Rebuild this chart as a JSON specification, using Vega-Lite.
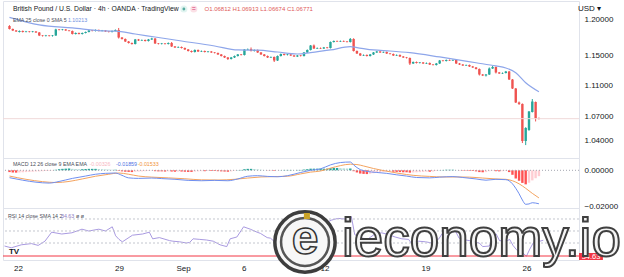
{
"$schema":"https://vega.github.io/schema/vega-lite/v6.json",
"padding":{"left":2,"top":0,"right":0,"bottom":0},
"spacing":0,
"bounds":"flush",
"background":"white",
"config":{"view":{"stroke":"#e0e3eb"},"font":"Liberation Sans","axis":{"domain":false,"ticks":false,"grid":false,"labelFont":"Liberation Sans","labelColor":"#131722","labelFontSize":8,"labelFlush":false,"labelOverlap":false,"labelBound":false}},
"resolve":{"scale":{"color":"independent"}},
"datasets":{
"candles":[
{"i":0,"o":1.1909,"h":1.1920,"l":1.1860,"c":1.1867,"m":-0.0010},
{"i":1,"o":1.1867,"h":1.1873,"l":1.1838,"c":1.1846,"m":-0.0012},
{"i":2,"o":1.1846,"h":1.1852,"l":1.1825,"c":1.1832,"m":-0.0013},
{"i":3,"o":1.1825,"h":1.1846,"l":1.1818,"c":1.1839,"m":-0.0012},
{"i":4,"o":1.1839,"h":1.1845,"l":1.1818,"c":1.1825,"m":-0.0011},
{"i":5,"o":1.1825,"h":1.1840,"l":1.1819,"c":1.1832,"m":-0.0010},
{"i":6,"o":1.1832,"h":1.1838,"l":1.1818,"c":1.1825,"m":-0.0009},
{"i":7,"o":1.1825,"h":1.1839,"l":1.1819,"c":1.1832,"m":-0.0008},
{"i":8,"o":1.1832,"h":1.1838,"l":1.1812,"c":1.1818,"m":-0.0007},
{"i":9,"o":1.1818,"h":1.1824,"l":1.1768,"c":1.1776,"m":-0.0006},
{"i":10,"o":1.1776,"h":1.1782,"l":1.1761,"c":1.1769,"m":-0.0005},
{"i":11,"o":1.1769,"h":1.1784,"l":1.1762,"c":1.1776,"m":-0.0004},
{"i":12,"o":1.1776,"h":1.1781,"l":1.1762,"c":1.1769,"m":-0.0003},
{"i":13,"o":1.1769,"h":1.1783,"l":1.1761,"c":1.1776,"m":-0.0002},
{"i":14,"o":1.1776,"h":1.1870,"l":1.1770,"c":1.1860,"m":0.0003},
{"i":15,"o":1.1860,"h":1.1866,"l":1.1846,"c":1.1853,"m":0.0006},
{"i":16,"o":1.1853,"h":1.1867,"l":1.1847,"c":1.1860,"m":0.0008},
{"i":17,"o":1.1860,"h":1.1866,"l":1.1840,"c":1.1846,"m":0.0009},
{"i":18,"o":1.1846,"h":1.1852,"l":1.1832,"c":1.1839,"m":0.0010},
{"i":19,"o":1.1839,"h":1.1845,"l":1.1790,"c":1.1797,"m":0.0008},
{"i":20,"o":1.1797,"h":1.1818,"l":1.1790,"c":1.1811,"m":0.0007},
{"i":21,"o":1.1811,"h":1.1817,"l":1.1791,"c":1.1797,"m":0.0006},
{"i":22,"o":1.1797,"h":1.1817,"l":1.1790,"c":1.1811,"m":0.0006},
{"i":23,"o":1.1811,"h":1.1831,"l":1.1805,"c":1.1825,"m":0.0007},
{"i":24,"o":1.1825,"h":1.1853,"l":1.1819,"c":1.1846,"m":0.0008},
{"i":25,"o":1.1846,"h":1.1853,"l":1.1833,"c":1.1839,"m":0.0008},
{"i":26,"o":1.1839,"h":1.1860,"l":1.1832,"c":1.1853,"m":0.0008},
{"i":27,"o":1.1853,"h":1.1859,"l":1.1832,"c":1.1839,"m":0.0007},
{"i":28,"o":1.1839,"h":1.1853,"l":1.1833,"c":1.1846,"m":0.0006},
{"i":29,"o":1.1846,"h":1.1852,"l":1.1826,"c":1.1832,"m":0.0005},
{"i":30,"o":1.1832,"h":1.1838,"l":1.1818,"c":1.1825,"m":0.0004},
{"i":31,"o":1.1825,"h":1.1845,"l":1.1818,"c":1.1839,"m":0.0003},
{"i":32,"o":1.1839,"h":1.1860,"l":1.1833,"c":1.1853,"m":0.0003},
{"i":33,"o":1.1853,"h":1.1881,"l":1.1734,"c":1.1748,"m":-0.0003},
{"i":34,"o":1.1748,"h":1.1755,"l":1.1720,"c":1.1728,"m":-0.0006},
{"i":35,"o":1.1728,"h":1.1735,"l":1.1686,"c":1.1693,"m":-0.0008},
{"i":36,"o":1.1693,"h":1.1700,"l":1.1665,"c":1.1672,"m":-0.0009},
{"i":37,"o":1.1672,"h":1.1679,"l":1.1650,"c":1.1659,"m":-0.0010},
{"i":38,"o":1.1659,"h":1.1728,"l":1.1652,"c":1.1721,"m":-0.0008},
{"i":39,"o":1.1721,"h":1.1728,"l":1.1700,"c":1.1707,"m":-0.0007},
{"i":40,"o":1.1707,"h":1.1721,"l":1.1700,"c":1.1714,"m":-0.0006},
{"i":41,"o":1.1714,"h":1.1720,"l":1.1693,"c":1.1700,"m":-0.0005},
{"i":42,"o":1.1700,"h":1.1728,"l":1.1693,"c":1.1721,"m":-0.0004},
{"i":43,"o":1.1721,"h":1.1745,"l":1.1714,"c":1.1734,"m":-0.0003},
{"i":44,"o":1.1734,"h":1.1741,"l":1.1659,"c":1.1666,"m":-0.0005},
{"i":45,"o":1.1666,"h":1.1672,"l":1.1652,"c":1.1659,"m":-0.0006},
{"i":46,"o":1.1659,"h":1.1673,"l":1.1652,"c":1.1666,"m":-0.0006},
{"i":47,"o":1.1666,"h":1.1672,"l":1.1651,"c":1.1659,"m":-0.0007},
{"i":48,"o":1.1659,"h":1.1680,"l":1.1652,"c":1.1672,"m":-0.0006},
{"i":49,"o":1.1672,"h":1.1686,"l":1.1618,"c":1.1625,"m":-0.0007},
{"i":50,"o":1.1625,"h":1.1631,"l":1.1604,"c":1.1611,"m":-0.0008},
{"i":51,"o":1.1611,"h":1.1625,"l":1.1604,"c":1.1618,"m":-0.0007},
{"i":52,"o":1.1618,"h":1.1624,"l":1.1597,"c":1.1604,"m":-0.0007},
{"i":53,"o":1.1604,"h":1.1611,"l":1.1577,"c":1.1584,"m":-0.0008},
{"i":54,"o":1.1584,"h":1.1590,"l":1.1556,"c":1.1563,"m":-0.0009},
{"i":55,"o":1.1563,"h":1.1570,"l":1.1542,"c":1.1549,"m":-0.0009},
{"i":56,"o":1.1549,"h":1.1584,"l":1.1542,"c":1.1577,"m":-0.0007},
{"i":57,"o":1.1577,"h":1.1583,"l":1.1549,"c":1.1556,"m":-0.0006},
{"i":58,"o":1.1556,"h":1.1570,"l":1.1549,"c":1.1563,"m":-0.0005},
{"i":59,"o":1.1563,"h":1.1569,"l":1.1543,"c":1.1549,"m":-0.0005},
{"i":60,"o":1.1549,"h":1.1563,"l":1.1542,"c":1.1556,"m":-0.0004},
{"i":61,"o":1.1556,"h":1.1562,"l":1.1536,"c":1.1543,"m":-0.0004},
{"i":62,"o":1.1543,"h":1.1549,"l":1.1529,"c":1.1536,"m":-0.0004},
{"i":63,"o":1.1536,"h":1.1542,"l":1.1509,"c":1.1516,"m":-0.0005},
{"i":64,"o":1.1516,"h":1.1522,"l":1.1488,"c":1.1495,"m":-0.0006},
{"i":65,"o":1.1495,"h":1.1501,"l":1.1468,"c":1.1475,"m":-0.0007},
{"i":66,"o":1.1475,"h":1.1481,"l":1.1441,"c":1.1455,"m":-0.0008},
{"i":67,"o":1.1455,"h":1.1482,"l":1.1448,"c":1.1475,"m":-0.0006},
{"i":68,"o":1.1475,"h":1.1502,"l":1.1468,"c":1.1495,"m":-0.0003},
{"i":69,"o":1.1495,"h":1.1522,"l":1.1488,"c":1.1516,"m":0.0001},
{"i":70,"o":1.1516,"h":1.1522,"l":1.1502,"c":1.1509,"m":0.0002},
{"i":71,"o":1.1509,"h":1.1590,"l":1.1502,"c":1.1584,"m":0.0006},
{"i":72,"o":1.1584,"h":1.1597,"l":1.1577,"c":1.1590,"m":0.0008},
{"i":73,"o":1.1590,"h":1.1611,"l":1.1556,"c":1.1563,"m":0.0008},
{"i":74,"o":1.1563,"h":1.1584,"l":1.1556,"c":1.1577,"m":0.0007},
{"i":75,"o":1.1577,"h":1.1583,"l":1.1536,"c":1.1543,"m":0.0005},
{"i":76,"o":1.1543,"h":1.1549,"l":1.1509,"c":1.1516,"m":0.0003},
{"i":77,"o":1.1516,"h":1.1522,"l":1.1488,"c":1.1495,"m":0.0001},
{"i":78,"o":1.1495,"h":1.1502,"l":1.1468,"c":1.1475,"m":-0.0001},
{"i":79,"o":1.1475,"h":1.1488,"l":1.1468,"c":1.1482,"m":-0.0001},
{"i":80,"o":1.1482,"h":1.1488,"l":1.1414,"c":1.1434,"m":-0.0003},
{"i":81,"o":1.1434,"h":1.1502,"l":1.1428,"c":1.1495,"m":-0.0001},
{"i":82,"o":1.1495,"h":1.1529,"l":1.1488,"c":1.1522,"m":0.0001},
{"i":83,"o":1.1522,"h":1.1529,"l":1.1502,"c":1.1509,"m":0.0002},
{"i":84,"o":1.1509,"h":1.1522,"l":1.1502,"c":1.1516,"m":0.0002},
{"i":85,"o":1.1516,"h":1.1522,"l":1.1495,"c":1.1502,"m":0.0002},
{"i":86,"o":1.1502,"h":1.1509,"l":1.1482,"c":1.1488,"m":0.0001},
{"i":87,"o":1.1488,"h":1.1509,"l":1.1481,"c":1.1502,"m":0.0002},
{"i":88,"o":1.1502,"h":1.1509,"l":1.1488,"c":1.1495,"m":0.0002},
{"i":89,"o":1.1495,"h":1.1549,"l":1.1488,"c":1.1543,"m":0.0004},
{"i":90,"o":1.1543,"h":1.1584,"l":1.1536,"c":1.1577,"m":0.0006},
{"i":91,"o":1.1577,"h":1.1645,"l":1.1570,"c":1.1638,"m":0.0009},
{"i":92,"o":1.1638,"h":1.1652,"l":1.1590,"c":1.1597,"m":0.0009},
{"i":93,"o":1.1597,"h":1.1611,"l":1.1590,"c":1.1604,"m":0.0009},
{"i":94,"o":1.1604,"h":1.1611,"l":1.1590,"c":1.1597,"m":0.0009},
{"i":95,"o":1.1597,"h":1.1618,"l":1.1590,"c":1.1611,"m":0.0009},
{"i":96,"o":1.1611,"h":1.1618,"l":1.1597,"c":1.1604,"m":0.0009},
{"i":97,"o":1.1604,"h":1.1693,"l":1.1597,"c":1.1686,"m":0.0012},
{"i":98,"o":1.1686,"h":1.1707,"l":1.1679,"c":1.1700,"m":0.0013},
{"i":99,"o":1.1700,"h":1.1707,"l":1.1686,"c":1.1693,"m":0.0013},
{"i":100,"o":1.1693,"h":1.1707,"l":1.1686,"c":1.1700,"m":0.0012},
{"i":101,"o":1.1700,"h":1.1707,"l":1.1686,"c":1.1693,"m":0.0011},
{"i":102,"o":1.1693,"h":1.1700,"l":1.1679,"c":1.1686,"m":0.0010},
{"i":103,"o":1.1686,"h":1.1741,"l":1.1679,"c":1.1728,"m":0.0010},
{"i":104,"o":1.1728,"h":1.1738,"l":1.1556,"c":1.1563,"m":-0.0005},
{"i":105,"o":1.1563,"h":1.1570,"l":1.1522,"c":1.1529,"m":-0.0012},
{"i":106,"o":1.1529,"h":1.1536,"l":1.1495,"c":1.1502,"m":-0.0018},
{"i":107,"o":1.1502,"h":1.1516,"l":1.1495,"c":1.1509,"m":-0.0020},
{"i":108,"o":1.1509,"h":1.1516,"l":1.1488,"c":1.1495,"m":-0.0021},
{"i":109,"o":1.1495,"h":1.1522,"l":1.1488,"c":1.1516,"m":-0.0019},
{"i":110,"o":1.1516,"h":1.1549,"l":1.1509,"c":1.1543,"m":-0.0016},
{"i":111,"o":1.1543,"h":1.1565,"l":1.1536,"c":1.1556,"m":-0.0013},
{"i":112,"o":1.1556,"h":1.1563,"l":1.1536,"c":1.1543,"m":-0.0011},
{"i":113,"o":1.1543,"h":1.1556,"l":1.1536,"c":1.1549,"m":-0.0009},
{"i":114,"o":1.1549,"h":1.1556,"l":1.1522,"c":1.1529,"m":-0.0008},
{"i":115,"o":1.1529,"h":1.1536,"l":1.1515,"c":1.1522,"m":-0.0007},
{"i":116,"o":1.1522,"h":1.1529,"l":1.1495,"c":1.1502,"m":-0.0008},
{"i":117,"o":1.1502,"h":1.1516,"l":1.1495,"c":1.1509,"m":-0.0009},
{"i":118,"o":1.1509,"h":1.1516,"l":1.1482,"c":1.1488,"m":-0.0010},
{"i":119,"o":1.1488,"h":1.1495,"l":1.1468,"c":1.1475,"m":-0.0011},
{"i":120,"o":1.1475,"h":1.1482,"l":1.1461,"c":1.1468,"m":-0.0011},
{"i":121,"o":1.1468,"h":1.1475,"l":1.1374,"c":1.1394,"m":-0.0013},
{"i":122,"o":1.1394,"h":1.1421,"l":1.1387,"c":1.1414,"m":-0.0012},
{"i":123,"o":1.1414,"h":1.1421,"l":1.1394,"c":1.1401,"m":-0.0011},
{"i":124,"o":1.1401,"h":1.1414,"l":1.1394,"c":1.1408,"m":-0.0010},
{"i":125,"o":1.1408,"h":1.1414,"l":1.1387,"c":1.1394,"m":-0.0009},
{"i":126,"o":1.1394,"h":1.1408,"l":1.1387,"c":1.1401,"m":-0.0008},
{"i":127,"o":1.1401,"h":1.1408,"l":1.1374,"c":1.1380,"m":-0.0008},
{"i":128,"o":1.1380,"h":1.1387,"l":1.1367,"c":1.1374,"m":-0.0007},
{"i":129,"o":1.1374,"h":1.1401,"l":1.1367,"c":1.1394,"m":-0.0004},
{"i":130,"o":1.1394,"h":1.1441,"l":1.1387,"c":1.1434,"m":0.0001},
{"i":131,"o":1.1434,"h":1.1441,"l":1.1421,"c":1.1428,"m":0.0002},
{"i":132,"o":1.1428,"h":1.1448,"l":1.1421,"c":1.1441,"m":0.0003},
{"i":133,"o":1.1441,"h":1.1448,"l":1.1428,"c":1.1434,"m":0.0003},
{"i":134,"o":1.1434,"h":1.1448,"l":1.1428,"c":1.1441,"m":0.0003},
{"i":135,"o":1.1441,"h":1.1448,"l":1.1387,"c":1.1394,"m":0.0001},
{"i":136,"o":1.1394,"h":1.1401,"l":1.1374,"c":1.1380,"m":-0.0001},
{"i":137,"o":1.1380,"h":1.1387,"l":1.1361,"c":1.1367,"m":-0.0002},
{"i":138,"o":1.1367,"h":1.1380,"l":1.1361,"c":1.1374,"m":-0.0002},
{"i":139,"o":1.1374,"h":1.1380,"l":1.1347,"c":1.1354,"m":-0.0003},
{"i":140,"o":1.1354,"h":1.1361,"l":1.1334,"c":1.1341,"m":-0.0004},
{"i":141,"o":1.1341,"h":1.1347,"l":1.1314,"c":1.1321,"m":-0.0006},
{"i":142,"o":1.1321,"h":1.1327,"l":1.1234,"c":1.1247,"m":-0.0010},
{"i":143,"o":1.1247,"h":1.1254,"l":1.1227,"c":1.1234,"m":-0.0011},
{"i":144,"o":1.1234,"h":1.1254,"l":1.1221,"c":1.1247,"m":-0.0010},
{"i":145,"o":1.1247,"h":1.1341,"l":1.1241,"c":1.1327,"m":-0.0005},
{"i":146,"o":1.1327,"h":1.1361,"l":1.1321,"c":1.1347,"m":-0.0003},
{"i":147,"o":1.1347,"h":1.1354,"l":1.1261,"c":1.1274,"m":-0.0005},
{"i":148,"o":1.1274,"h":1.1281,"l":1.1254,"c":1.1261,"m":-0.0006},
{"i":149,"o":1.1261,"h":1.1274,"l":1.1254,"c":1.1267,"m":-0.0005},
{"i":150,"o":1.1267,"h":1.1294,"l":1.1261,"c":1.1287,"m":-0.0004},
{"i":151,"o":1.1287,"h":1.1294,"l":1.1175,"c":1.1181,"m":-0.0010},
{"i":152,"o":1.1181,"h":1.1188,"l":1.1057,"c":1.1063,"m":-0.0025},
{"i":153,"o":1.1063,"h":1.1070,"l":1.0876,"c":1.0883,"m":-0.0045},
{"i":154,"o":1.0883,"h":1.0895,"l":1.0851,"c":1.0864,"m":-0.0058},
{"i":155,"o":1.0864,"h":1.0870,"l":1.0375,"c":1.0400,"m":-0.0070},
{"i":156,"o":1.0400,"h":1.0570,"l":1.0350,"c":1.0561,"m":-0.0078},
{"i":157,"o":1.0536,"h":1.0774,"l":1.0525,"c":1.0768,"m":-0.0069},
{"i":158,"o":1.0761,"h":1.0927,"l":1.0755,"c":1.0895,"m":-0.0056},
{"i":159,"o":1.0889,"h":1.0895,"l":1.0642,"c":1.0681,"m":-0.0044},
{"i":160,"o":1.06812,"h":1.06913,"l":1.06674,"c":1.06771,"m":-0.00326}
],
"ema":[{"i":0,"v":1.2030},{"i":9,"v":1.1923},{"i":19,"v":1.1881},{"i":29,"v":1.1839},{"i":32,"v":1.1837},{"i":38,"v":1.1797},{"i":44,"v":1.1755},{"i":52,"v":1.1700},{"i":62,"v":1.1631},{"i":69,"v":1.1577},{"i":75,"v":1.1575},{"i":81,"v":1.1549},{"i":87,"v":1.1522},{"i":91,"v":1.1540},{"i":97,"v":1.1577},{"i":103,"v":1.1622},{"i":105,"v":1.1610},{"i":110,"v":1.1577},{"i":115,"v":1.1563},{"i":121,"v":1.1540},{"i":130,"v":1.1482},{"i":141,"v":1.1404},{"i":147,"v":1.1361},{"i":150,"v":1.1334},{"i":153,"v":1.1271},{"i":156,"v":1.1139},{"i":160,"v":1.10213}],
"macd":[{"i":0,"v":-0.0041},{"i":4,"v":-0.0055},{"i":8,"v":-0.0066},{"i":12,"v":-0.0071},{"i":15,"v":-0.0062},{"i":19,"v":-0.0045},{"i":23,"v":-0.0032},{"i":26,"v":-0.0022},{"i":29,"v":-0.0017},{"i":32,"v":-0.0015},{"i":34,"v":-0.0028},{"i":36,"v":-0.0042},{"i":39,"v":-0.0045},{"i":43,"v":-0.0043},{"i":46,"v":-0.0046},{"i":50,"v":-0.0050},{"i":54,"v":-0.0056},{"i":58,"v":-0.0058},{"i":62,"v":-0.0056},{"i":66,"v":-0.0058},{"i":69,"v":-0.0048},{"i":72,"v":-0.0033},{"i":75,"v":-0.0030},{"i":78,"v":-0.0034},{"i":81,"v":-0.0036},{"i":84,"v":-0.0030},{"i":88,"v":-0.0012},{"i":91,"v":0.0000},{"i":94,"v":0.0008},{"i":97,"v":0.0030},{"i":100,"v":0.0043},{"i":103,"v":0.0046},{"i":104,"v":0.0030},{"i":105,"v":0.0015},{"i":106,"v":0.0004},{"i":108,"v":-0.0006},{"i":111,"v":-0.0012},{"i":114,"v":-0.0017},{"i":117,"v":-0.0025},{"i":120,"v":-0.0032},{"i":123,"v":-0.0040},{"i":127,"v":-0.0042},{"i":130,"v":-0.0038},{"i":134,"v":-0.0035},{"i":137,"v":-0.0040},{"i":141,"v":-0.0048},{"i":144,"v":-0.0055},{"i":147,"v":-0.0050},{"i":150,"v":-0.0052},{"i":152,"v":-0.0075},{"i":153,"v":-0.0100},{"i":154,"v":-0.0130},{"i":155,"v":-0.0165},{"i":156,"v":-0.0189},{"i":157,"v":-0.0187},{"i":158,"v":-0.0180},{"i":159,"v":-0.0182},{"i":160,"v":-0.01859}],
"sig":[{"i":0,"v":-0.0032},{"i":5,"v":-0.0050},{"i":10,"v":-0.0063},{"i":14,"v":-0.0068},{"i":18,"v":-0.0062},{"i":22,"v":-0.0048},{"i":26,"v":-0.0033},{"i":30,"v":-0.0022},{"i":33,"v":-0.0015},{"i":36,"v":-0.0022},{"i":39,"v":-0.0032},{"i":43,"v":-0.0038},{"i":48,"v":-0.0042},{"i":53,"v":-0.0047},{"i":58,"v":-0.0053},{"i":63,"v":-0.0054},{"i":68,"v":-0.0050},{"i":72,"v":-0.0043},{"i":76,"v":-0.0037},{"i":80,"v":-0.0035},{"i":84,"v":-0.0033},{"i":88,"v":-0.0020},{"i":91,"v":-0.0010},{"i":94,"v":-0.0004},{"i":97,"v":0.0012},{"i":100,"v":0.0026},{"i":103,"v":0.0034},{"i":105,"v":0.0032},{"i":107,"v":0.0024},{"i":110,"v":0.0010},{"i":114,"v":-0.0005},{"i":118,"v":-0.0018},{"i":122,"v":-0.0028},{"i":127,"v":-0.0034},{"i":131,"v":-0.0037},{"i":135,"v":-0.0037},{"i":139,"v":-0.0038},{"i":143,"v":-0.0043},{"i":147,"v":-0.0048},{"i":150,"v":-0.0050},{"i":152,"v":-0.0058},{"i":154,"v":-0.0075},{"i":156,"v":-0.0100},{"i":158,"v":-0.0128},{"i":160,"v":-0.01533}],
"rsi":[{"i":0,"v":25},{"i":2,"v":22},{"i":5,"v":27},{"i":8,"v":29},{"i":10,"v":26},{"i":12,"v":33},{"i":14,"v":48},{"i":17,"v":45},{"i":20,"v":47},{"i":23,"v":53},{"i":25,"v":50},{"i":28,"v":53},{"i":30,"v":50},{"i":32,"v":57},{"i":33,"v":42},{"i":34,"v":36},{"i":35,"v":32},{"i":38,"v":43},{"i":41,"v":45},{"i":43,"v":48},{"i":44,"v":37},{"i":46,"v":39},{"i":49,"v":34},{"i":50,"v":33},{"i":52,"v":32},{"i":54,"v":30},{"i":55,"v":31},{"i":56,"v":37},{"i":58,"v":36},{"i":60,"v":35},{"i":62,"v":33},{"i":64,"v":27},{"i":66,"v":24},{"i":67,"v":37},{"i":69,"v":40},{"i":71,"v":57},{"i":73,"v":53},{"i":75,"v":48},{"i":76,"v":46},{"i":78,"v":39},{"i":79,"v":38},{"i":80,"v":33},{"i":81,"v":45},{"i":83,"v":47},{"i":86,"v":44},{"i":88,"v":45},{"i":89,"v":52},{"i":91,"v":62},{"i":92,"v":55},{"i":94,"v":60},{"i":95,"v":62},{"i":97,"v":68},{"i":99,"v":71},{"i":101,"v":70},{"i":103,"v":74},{"i":104,"v":44},{"i":106,"v":38},{"i":108,"v":37},{"i":110,"v":45},{"i":112,"v":47},{"i":114,"v":44},{"i":116,"v":40},{"i":118,"v":37},{"i":120,"v":36},{"i":121,"v":28},{"i":123,"v":33},{"i":125,"v":32},{"i":127,"v":30},{"i":129,"v":37},{"i":130,"v":46},{"i":132,"v":48},{"i":134,"v":49},{"i":135,"v":38},{"i":137,"v":35},{"i":139,"v":33},{"i":141,"v":30},{"i":142,"v":24},{"i":144,"v":25},{"i":145,"v":42},{"i":146,"v":45},{"i":147,"v":34},{"i":149,"v":33},{"i":150,"v":36},{"i":151,"v":26},{"i":152,"v":19},{"i":153,"v":14},{"i":154,"v":13},{"i":155,"v":8},{"i":156,"v":20},{"i":157,"v":30},{"i":158,"v":38},{"i":159,"v":33},{"i":160,"v":34.63}]
},
"vconcat":[
{
"width":576,"height":157,
"layer":[
{"data":{"name":"candles"},"transform":[{"calculate":"datum.c>=datum.o?'up':'down'","as":"dir"}],
"mark":{"type":"rule","strokeWidth":1},
"encoding":{
"x":{"field":"i","type":"quantitative","scale":{"domain":[-0.45,170.6],"nice":false,"zero":false},"axis":null},
"y":{"field":"l","type":"quantitative","title":null,"scale":{"type":"log","domain":[1.01938,1.22643],"nice":false,"zero":false},
"axis":{"orient":"right","values":[1.2,1.15,1.11,1.07,1.04],"format":".5f","labelPadding":5,"title":null}},
"y2":{"field":"h"},
"color":{"field":"dir","type":"nominal","scale":{"domain":["up","down"],"range":["#26a69a","#ef5350"]},"legend":null}}},
{"data":{"name":"candles"},"transform":[{"calculate":"datum.c>=datum.o?'up':'down'","as":"dir"}],
"mark":{"type":"bar","width":2.4},
"encoding":{
"x":{"field":"i","type":"quantitative"},
"y":{"field":"o","type":"quantitative","title":null},
"y2":{"field":"c"},
"color":{"field":"dir","type":"nominal","legend":null}}},
{"data":{"values":[{"p":1.06771}]},"mark":{"type":"rule","color":"#f0dada","strokeWidth":1},"encoding":{"y":{"field":"p","type":"quantitative","title":null}}},
{"data":{"name":"ema"},"mark":{"type":"line","color":"#8ea6ea","strokeWidth":1.2,"interpolate":"monotone"},
"encoding":{"x":{"field":"i","type":"quantitative"},"y":{"field":"v","type":"quantitative","title":null}}},
{"data":{"values":[{"t":"British Pound / U.S. Dollar · 4h · OANDA · TradingView"}]},"mark":{"type":"text","align":"left","baseline":"middle","fontSize":6.8,"color":"#131722"},
"encoding":{"x":{"datum":1.03},"y":{"datum":1.21494},"text":{"field":"t"}}},
{"data":{"values":[{"t":"USD ▾"}]},"mark":{"type":"text","align":"left","baseline":"middle","fontSize":8,"color":"#131722"},
"encoding":{"x":{"datum":171.8},"y":{"datum":1.21494},"text":{"field":"t"}}},
{"data":{"values":[{"k":"a"}]},"mark":{"type":"point","shape":"circle","filled":true,"size":50,"color":"#d4efe9"},"encoding":{"x":{"datum":52.7},"y":{"datum":1.21494}}},
{"data":{"values":[{"k":"a"}]},"mark":{"type":"point","shape":"circle","filled":true,"size":8,"color":"#1e8c7e"},"encoding":{"x":{"datum":52.7},"y":{"datum":1.21494}}},
{"data":{"values":[{"k":"b"}]},"mark":{"type":"point","shape":"circle","filled":true,"size":50,"color":"#f9d3dc"},"encoding":{"x":{"datum":55.7},"y":{"datum":1.21494}}},
{"data":{"values":[{"t":"="}]},"mark":{"type":"text","align":"center","baseline":"middle","fontSize":7,"color":"#d6336c"},"encoding":{"x":{"datum":55.7},"y":{"datum":1.21494},"text":{"field":"t"}}},
{"data":{"values":[{"t":"O1.06812  H1.06913  L1.06674  C1.06771"}]},"mark":{"type":"text","align":"left","baseline":"middle","fontSize":6,"color":"#e05a5a"},
"encoding":{"x":{"datum":58.94},"y":{"datum":1.21494},"text":{"field":"t"}}},
{"data":{"values":[{"t":"EMA 25 close 0 SMA 5"}]},"mark":{"type":"text","align":"left","baseline":"middle","fontSize":5.3,"color":"#4a4e59"},
"encoding":{"x":{"datum":1.03},"y":{"datum":1.19929},"text":{"field":"t"}}},
{"data":{"values":[{"t":"1.10213"}]},"mark":{"type":"text","align":"left","baseline":"middle","fontSize":5.3,"color":"#6f8fe0"},
"encoding":{"x":{"datum":17.66},"y":{"datum":1.19929},"text":{"field":"t"}}}
]
},
{
"width":576,"height":50,
"layer":[
{"data":{"name":"candles"},"transform":[{"window":[{"op":"lag","field":"m","as":"pm"}],"sort":[{"field":"i","order":"ascending"}]},{"calculate":"datum.m>=0?((datum.pm==null||datum.m>=datum.pm)?'gu':'gf'):((datum.pm==null||datum.m<=datum.pm)?'rd':'rf')","as":"hc"}],
"mark":{"type":"bar","width":2.4},
"encoding":{
"x":{"field":"i","type":"quantitative","scale":{"domain":[-0.45,170.6],"nice":false,"zero":false},"axis":null},
"y":{"field":"m","type":"quantitative","title":null,"scale":{"domain":[-0.02094,0.00683],"nice":false,"zero":false},"axis":{"orient":"right","values":[0,-0.02],"format":".5f","labelPadding":5,"title":null}},
"y2":{"datum":0},
"color":{"field":"hc","type":"nominal","scale":{"domain":["gu","gf","rd","rf"],"range":["#26a69a","#b2dfdb","#ff5252","#ffcdd2"]},"legend":null}}},
{"data":{"values":[{"z":0}]},"mark":{"type":"rule","color":"#a3a6af","strokeDash":[1,2],"strokeWidth":1},"encoding":{"y":{"field":"z","type":"quantitative","title":null}}},
{"data":{"name":"sig"},"mark":{"type":"line","color":"#f4a460","strokeWidth":1,"interpolate":"monotone"},"encoding":{"x":{"field":"i","type":"quantitative"},"y":{"field":"v","type":"quantitative","title":null}}},
{"data":{"name":"macd"},"mark":{"type":"line","color":"#6f8ff0","strokeWidth":1,"interpolate":"monotone"},"encoding":{"x":{"field":"i","type":"quantitative"},"y":{"field":"v","type":"quantitative","title":null}}},
{"data":{"values":[{"t":"MACD 12 26 close 9 EMA EMA"}]},"mark":{"type":"text","align":"left","baseline":"middle","fontSize":5.3,"color":"#4a4e59"},"encoding":{"x":{"datum":1.03},"y":{"datum":0.00333},"text":{"field":"t"}}},
{"data":{"values":[{"t":"-0.00326"}]},"mark":{"type":"text","align":"left","baseline":"middle","fontSize":5.3,"color":"#f7b6c2"},"encoding":{"x":{"datum":24.2},"y":{"datum":0.00333},"text":{"field":"t"}}},
{"data":{"values":[{"t":"-0.01859"}]},"mark":{"type":"text","align":"left","baseline":"middle","fontSize":5.3,"color":"#4d72e3"},"encoding":{"x":{"datum":32.22},"y":{"datum":0.00333},"text":{"field":"t"}}},
{"data":{"values":[{"t":"-0.01533"}]},"mark":{"type":"text","align":"left","baseline":"middle","fontSize":5.3,"color":"#f0943a"},"encoding":{"x":{"datum":38.75},"y":{"datum":0.00333},"text":{"field":"t"}}}
]
},
{
"width":576,"height":52,
"layer":[
{"data":{"name":"rsi"},"mark":{"type":"line","color":"#9f8fdc","strokeWidth":0.9},
"encoding":{
"x":{"field":"i","type":"quantitative","scale":{"domain":[-0.45,170.6],"nice":false,"zero":false},"axis":{"orient":"bottom","values":[4,34,53,71,95,125,155],"labelExpr":"datum.value==4?'22':datum.value==34?'29':datum.value==53?'Sep':datum.value==71?'6':datum.value==95?'12':datum.value==125?'19':'26'","labelPadding":4,"labelFontSize":8,"title":null}},
"y":{"field":"v","type":"quantitative","title":null,"scale":{"domain":[1.67,88.33],"nice":false,"zero":false},"axis":null}}},
{"data":{"values":[{"b":70},{"b":50},{"b":30}]},"mark":{"type":"rule","color":"#c3c6ce","strokeDash":[2,2],"strokeWidth":1},"encoding":{"y":{"field":"b","type":"quantitative","title":null}}},
{"data":{"values":[{"r":8.33}]},"mark":{"type":"rule","color":"#f23645","strokeWidth":1},"encoding":{"y":{"field":"r","type":"quantitative","title":null}}},
{"data":{"values":[{"t":"RSI 14 close SMA 14 2"}]},"mark":{"type":"text","align":"left","baseline":"middle","fontSize":5.3,"color":"#4a4e59"},"encoding":{"x":{"datum":1.03},"y":{"datum":75.8},"text":{"field":"t"}}},
{"data":{"values":[{"t":"34.63"}]},"mark":{"type":"text","align":"left","baseline":"middle","fontSize":5.3,"color":"#8e7cc3"},"encoding":{"x":{"datum":16.77},"y":{"datum":75.8},"text":{"field":"t"}}},
{"data":{"values":[{"t":"ø ø"}]},"mark":{"type":"text","align":"left","baseline":"middle","fontSize":5.3,"color":"#4a4e59"},"encoding":{"x":{"datum":21.23},"y":{"datum":75.8},"text":{"field":"t"}}},
{"data":{"values":[{"t":"TV"}]},"mark":{"type":"text","align":"center","baseline":"middle","fontSize":8,"fontWeight":"bold","color":"#131722"},"encoding":{"x":{"datum":2.82},"y":{"datum":15},"text":{"field":"t"}}},
{"data":{"values":[{"k":"box"}]},"mark":{"type":"rect","color":"#f23645","clip":false},"encoding":{"x":{"datum":170.6},"x2":{"datum":177.7},"y":{"datum":13.3},"y2":{"datum":1.67}}},
{"data":{"values":[{"t":"34.63"}]},"mark":{"type":"text","align":"left","baseline":"middle","fontSize":7.5,"color":"white"},"encoding":{"x":{"datum":171.4},"y":{"datum":7.5},"text":{"field":"t"}}},
{"data":{"values":[{"k":"ring"}]},"mark":{"type":"point","shape":"circle","filled":false,"fill":"#f7f7f7","fillOpacity":1,"size":3632,"stroke":"#3d3d3d","strokeWidth":3.5,"opacity":1},"encoding":{"x":{"datum":89.23},"y":{"datum":31.67}}},
{"data":{"values":[{"k":"ring2"}]},"mark":{"type":"point","shape":"circle","filled":false,"size":2290,"stroke":"#555555","strokeWidth":2.5,"opacity":1},"encoding":{"x":{"datum":89.23},"y":{"datum":31.67}}},
{"data":{"values":[{"t":"e"}]},"mark":{"type":"text","align":"center","baseline":"middle","fontSize":48,"fontWeight":"bold","fill":"#f2f2f2","stroke":"#333333","strokeWidth":1.5},"encoding":{"x":{"datum":89.23},"y":{"datum":34.5},"text":{"field":"t"}}},
{"data":{"values":[{"k":"sq"}]},"mark":{"type":"point","shape":"square","filled":true,"size":36,"color":"#c9a227","opacity":1},"encoding":{"x":{"datum":89.8},"y":{"datum":75}}},
{"data":{"values":[{"t":"ieconomy.io"}]},"mark":{"type":"text","align":"left","baseline":"alphabetic","fontSize":53,"font":"Liberation Sans","fill":"#f4f4f4","stroke":"#404040","strokeWidth":2},"encoding":{"x":{"datum":100.22},"y":{"datum":8.33},"text":{"field":"t"}}}
]
}
]
}
